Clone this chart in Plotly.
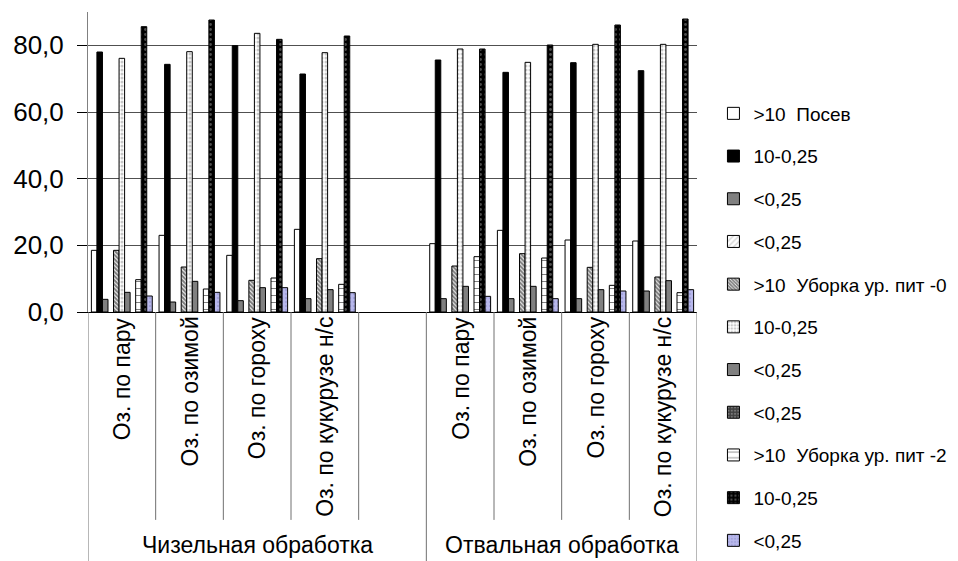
import plotly.graph_objects as go

# ---- data ----
groups = ["Чизельная обработка", "Отвальная обработка"]
crops = ["Оз. по пару", "Оз. по озимой", "Оз. по гороху", "Оз. по кукурузе н/с"]
# first group has an extra empty category at its end
group_sizes = [5, 4]

series_names = [
    ">10\u00a0 Посев", "10-0,25", "<0,25", "<0,25",
    ">10\u00a0 Уборка ур. пит -0", "10-0,25", "<0,25", "<0,25",
    ">10\u00a0 Уборка ур. пит -2", "10-0,25", "<0,25",
]

s1 = [18.5, 23.0, 17.0, 24.8, 20.5, 24.5, 21.6, 21.3]
s2 = [78.0, 74.3, 79.9, 71.4, 75.6, 71.9, 74.8, 72.4]
s3 = [3.8, 3.0, 3.4, 4.0, 4.0, 4.0, 4.0, 6.3]
s4 = [None] * 8
s5 = [18.5, 13.5, 9.5, 16.0, 13.8, 17.5, 13.4, 10.5]
s6 = [76.1, 78.1, 83.6, 77.8, 78.9, 74.9, 80.3, 80.3]
s7 = [5.9, 9.2, 7.3, 6.7, 7.7, 7.7, 6.7, 9.4]
s8 = [None] * 8
s9 = [9.7, 6.9, 10.2, 8.3, 16.6, 16.2, 8.0, 5.8]
s10 = [85.6, 87.6, 81.8, 82.8, 78.9, 80.1, 86.1, 87.9]
s11 = [4.8, 5.9, 7.3, 5.8, 4.7, 4.0, 6.3, 6.7]
values = [s1, s2, s3, s4, s5, s6, s7, s8, s9, s10, s11]

y_ticks = [0, 20, 40, 60, 80]

# ---- category keys ----
all_keys = []      # all category slots (incl. empty)
all_labels = []
data_keys = []     # categories with data
for g, n in zip(groups, group_sizes):
    for i in range(n):
        lab = crops[i] if i < len(crops) else ""
        key = g + " / " + (lab if lab else "(пусто)")
        all_keys.append(key)
        all_labels.append(lab)
        if lab:
            data_keys.append(key)

styles = [
    dict(color="white", pattern=None),
    dict(color="black", pattern=None),
    dict(color="#808080", pattern=None),
    dict(color="white", pattern=dict(shape="/", fgcolor="#a0a0a0", size=5, solidity=0.3)),
    dict(color="white", pattern=dict(shape="\\", fgcolor="black", size=3, solidity=0.7)),
    dict(color="white", pattern=dict(shape=".", fgcolor="#909090", size=4, solidity=0.45)),
    dict(color="#808080", pattern=None),
    dict(color="#404040", pattern=dict(shape=".", fgcolor="#b0b0b0", size=4, solidity=0.3)),
    dict(color="white", pattern=dict(shape="-", fgcolor="black", size=7, solidity=0.15)),
    dict(color="black", pattern=dict(shape=".", fgcolor="#9a9a9a", size=5, solidity=0.25)),
    dict(color="#b8b8ec", pattern=dict(shape=".", fgcolor="#8c8cc8", size=4, solidity=0.3)),
]

FONT = "Liberation Sans, Arial, sans-serif"

fig = go.Figure()
for idx, (name, vals, st) in enumerate(zip(series_names, values, styles)):
    marker = dict(color=st["color"], line=dict(color="black", width=1))
    if st["pattern"]:
        marker["pattern"] = dict(fillmode="overlay", bgcolor=st["color"], **st["pattern"])
    fig.add_trace(go.Bar(
        name=name, x=data_keys, y=vals, marker=marker,
        legendgroup="g%d" % idx, hoverinfo="y",
    ))

n_cat = len(all_keys)

shapes = []
# category boundaries
bound = 0
long_bounds = [-0.5]
for n in group_sizes:
    bound += n
    long_bounds.append(bound - 0.5)
for b in range(1, n_cat):
    pos = b - 0.5
    if pos in long_bounds:
        continue
    shapes.append(dict(type="line", xref="x", yref="paper", x0=pos, x1=pos,
                       y0=0, y1=-0.693, line=dict(color="#707070", width=1)))
for pos in long_bounds:
    shapes.append(dict(type="line", xref="x", yref="paper", x0=pos, x1=pos,
                       y0=0, y1=-0.83, line=dict(color="#707070", width=1)))

annotations = []
for i, lab in enumerate(all_labels):
    if lab:
        annotations.append(dict(x=i, y=-0.01, xref="x", yref="paper", text=lab,
                                textangle=-90, showarrow=False, xanchor="center",
                                yanchor="top", font=dict(size=23, color="black", family=FONT)))
start = 0
for g, n in zip(groups, group_sizes):
    annotations.append(dict(x=start + (n - 1) / 2, y=-0.777, xref="x", yref="paper",
                            text=g, showarrow=False, xanchor="center", yanchor="middle",
                            font=dict(size=23, color="black", family=FONT)))
    start += n

fig.update_layout(
    width=958, height=561,
    margin=dict(l=88, r=261, t=12, b=249, pad=0, autoexpand=False),
    paper_bgcolor="white", plot_bgcolor="white",
    font=dict(family=FONT, color="black"),
    separators=", ",
    barmode="group", bargap=0.1, bargroupgap=0,
    showlegend=True,
    legend=dict(x=1.027, xanchor="left", y=0.725, yanchor="top",
                font=dict(size=19, family=FONT, color="black"),
                tracegroupgap=15, bgcolor="rgba(0,0,0,0)", borderwidth=0,
                traceorder="grouped", maxheight=560),
    shapes=shapes, annotations=annotations,
)
fig.update_xaxes(type="category", categoryorder="array", categoryarray=all_keys,
                 range=[-0.5, n_cat - 0.5], showticklabels=False, ticks="",
                 showline=True, linecolor="black", linewidth=1, showgrid=False,
                 zeroline=False)
fig.update_yaxes(range=[0, 90], tickvals=y_ticks, tickformat=".1f",
                 showgrid=True, gridcolor="#505050", gridwidth=1,
                 showline=True, linecolor="#808080", linewidth=1,
                 ticks="outside", ticklen=10, tickcolor="black",
                 ticklabelstandoff=8,
                 tickfont=dict(size=26, family=FONT, color="black"),
                 zeroline=False)

fig.write_html("out.html", config={"displayModeBar": False},
               post_script="document.body.style.margin='0';")
